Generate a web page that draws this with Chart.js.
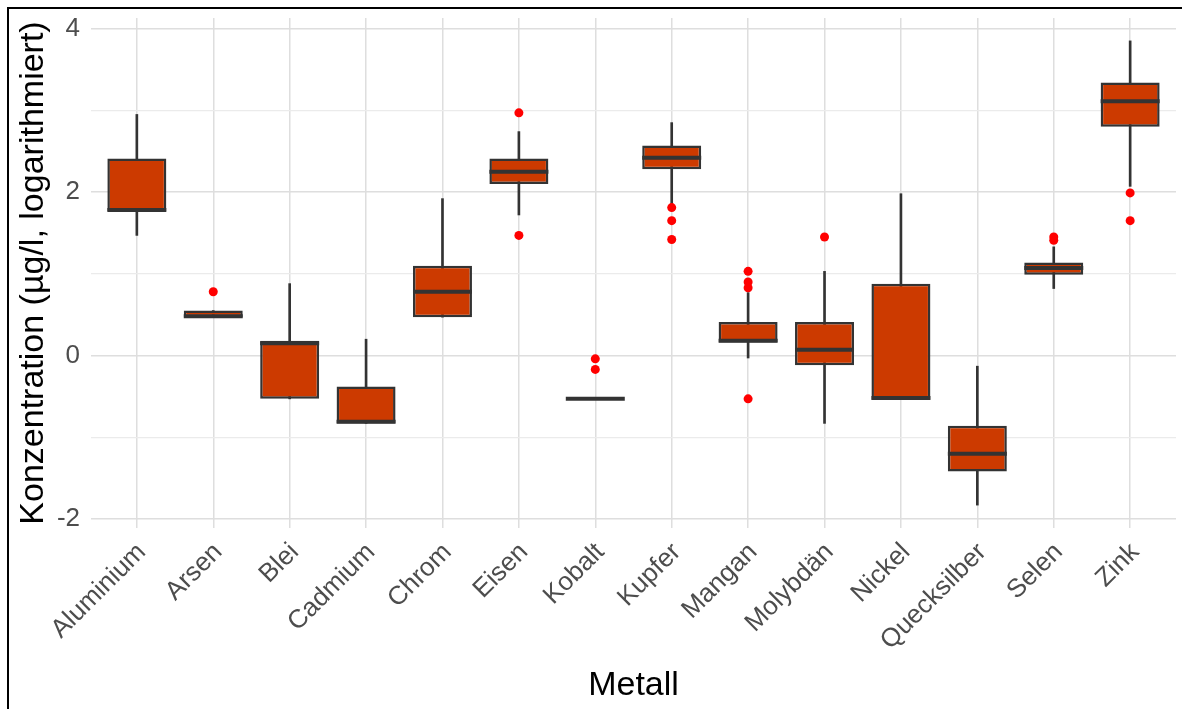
<!DOCTYPE html>
<html>
<head>
<meta charset="utf-8">
<script src="https://cdn.jsdelivr.net/npm/chart.js@4"></script>
<style>
  html, body { margin: 0; padding: 0; background: #fff; }
  #frame {
    position: absolute; left: 7px; top: 7px;
    width: 1175px; height: 702px;
    border-left: 2px solid #000; border-top: 2px solid #000;
  }
  #wrap { position: absolute; left: 0; top: 0; width: 1173px; height: 700px; }
</style>
</head>
<body>
<div id="frame"><div id="wrap"><canvas id="box"></canvas></div></div>
<script>
// Boxplot-Kennwerte je Metall (log10, µg/l)
const metalle = ['Aluminium', 'Arsen', 'Blei', 'Cadmium', 'Chrom', 'Eisen', 'Kobalt',
                 'Kupfer', 'Mangan', 'Molybdän', 'Nickel', 'Quecksilber', 'Selen', 'Zink'];
const whiskerUnten = [1.47, 0.47, -0.53, -0.83, 0.47, 1.72, -0.53, 1.85, -0.03, -0.83, -0.54, -1.83, 0.82, 2.07];
const q1           = [1.77, 0.47, -0.53, -0.83, 0.47, 2.10, -0.53, 2.28, 0.16, -0.12, -0.54, -1.42, 0.99, 2.80];
const median       = [1.78, 0.48, 0.15, -0.81, 0.78, 2.25, -0.53, 2.42, 0.18, 0.07, -0.52, -1.20, 1.07, 3.11];
const q3           = [2.41, 0.55, 0.18, -0.38, 1.10, 2.41, -0.53, 2.57, 0.41, 0.41, 0.88, -0.86, 1.14, 3.34];
const whiskerOben  = [2.95, 0.55, 0.88, 0.20, 1.92, 2.74, -0.53, 2.85, 0.77, 1.03, 1.98, -0.13, 1.33, 3.85];
const ausreisser   = [[], [0.78], [], [], [], [2.97, 1.47], [-0.04, -0.17], [1.81, 1.65, 1.42],
                      [1.03, 0.90, 0.83, -0.53], [1.45], [], [], [1.41, 1.45], [1.99, 1.65]];
const yTicks = [-2, -1, 0, 1, 2, 3, 4];

const boxFarbe = '#cc3a00';
const linie = '#333333';

const punkte = [];
ausreisser.forEach((liste, i) => liste.forEach(v => punkte.push({x: i, y: v})));

// Medianlinien über die Boxen legen
const medianPlugin = {
  id: 'medianLinie',
  afterDatasetsDraw(chart) {
    const meta = chart.getDatasetMeta(1);
    const y = chart.scales.y;
    const ctx = chart.ctx;
    ctx.save();
    ctx.strokeStyle = linie;
    ctx.lineWidth = 4;
    meta.data.forEach((bar, i) => {
      const py = y.getPixelForValue(median[i]);
      ctx.beginPath();
      ctx.moveTo(bar.x - bar.width / 2, py);
      ctx.lineTo(bar.x + bar.width / 2, py);
      ctx.stroke();
    });
    ctx.restore();
  }
};

new Chart(document.getElementById('box'), {
  type: 'bar',
  data: {
    datasets: [
      {
        // Whisker
        data: metalle.map((m, i) => ({x: i, y: [whiskerUnten[i], whiskerOben[i]]})),
        backgroundColor: linie,
        borderWidth: 0,
        barThickness: 2,
        grouped: false,
        order: 3
      },
      {
        // Boxen
        data: metalle.map((m, i) => ({x: i, y: [q1[i], q3[i]]})),
        backgroundColor: boxFarbe,
        borderColor: linie,
        borderWidth: 2.5,
        borderSkipped: false,
        barPercentage: 0.772,
        categoryPercentage: 1,
        grouped: false,
        order: 2
      },
      {
        type: 'scatter',
        data: punkte,
        backgroundColor: '#ff0000',
        borderWidth: 0,
        pointRadius: 4.5,
        order: 1
      }
    ]
  },
  options: {
    responsive: true,
    maintainAspectRatio: false,
    animation: false,
    layout: { padding: { top: 9, right: 6, left: 0, bottom: 0 } },
    plugins: {
      legend: { display: false },
      tooltip: { enabled: false }
    },
    scales: {
      x: {
        type: 'linear',
        offset: false,
        min: -0.6,
        max: 13.6,
        afterBuildTicks: s => { s.ticks = metalle.map((m, i) => ({value: i})); },
        afterFit: s => { s.height = 181; s.paddingLeft = 0; s.paddingRight = 0; },
        border: { display: false },
        grid: { color: '#dedede', lineWidth: 1.5, drawTicks: false, offset: false },
        ticks: {
          callback: v => metalle[v],
          minRotation: 45,
          maxRotation: 45,
          padding: 9,
          labelOffset: 5,
          color: '#4d4d4d',
          font: { family: 'Liberation Sans', size: 26 }
        },
        title: {
          display: true,
          text: 'Metall',
          color: '#000',
          padding: { top: 0, bottom: 3 },
          font: { family: 'Liberation Sans', size: 34 }
        }
      },
      y: {
        min: -2.11,
        max: 4.13,
        afterBuildTicks: s => { s.ticks = yTicks.map(v => ({value: v})); },
        afterFit: s => { s.width = 82; s.paddingTop = 0; s.paddingBottom = 0; },
        border: { display: false },
        grid: {
          color: c => (c.tick && c.tick.value % 2 === 0) ? '#dedede' : '#ebebeb',
          lineWidth: c => (c.tick && c.tick.value % 2 === 0) ? 1.5 : 1.2,
          drawTicks: false
        },
        ticks: {
          callback: v => (v % 2 === 0 ? String(v) : ''),
          padding: 11,
          color: '#4d4d4d',
          font: { family: 'Liberation Sans', size: 26 }
        },
        title: {
          display: true,
          text: 'Konzentration (µg/l, logarithmiert)',
          color: '#000',
          padding: { top: 4, bottom: 0 },
          font: { family: 'Liberation Sans', size: 34 }
        }
      }
    }
  },
  plugins: [medianPlugin]
});
</script>
</body>
</html>
